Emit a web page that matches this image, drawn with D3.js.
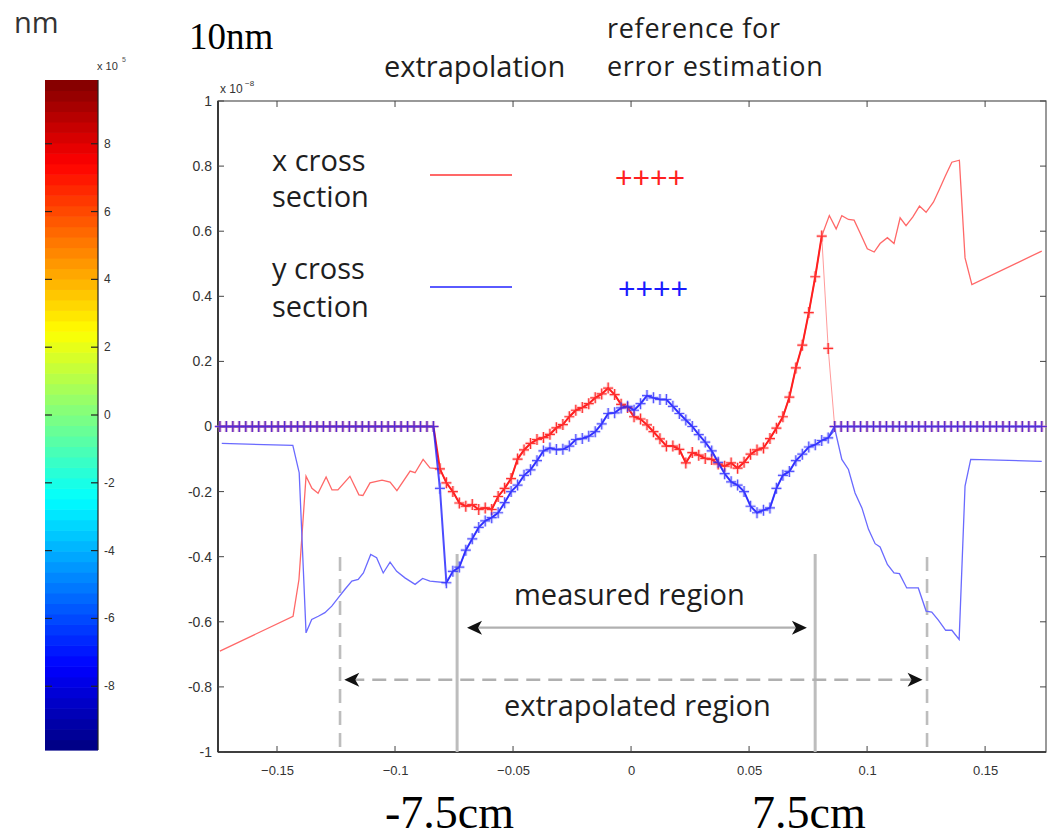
<!DOCTYPE html>
<html><head><meta charset="utf-8">
<script src="https://cdn.jsdelivr.net/npm/d3@7"></script>
<style>body{margin:0;background:#fff}svg{display:block}</style>
</head><body>
<svg id="c" width="1052" height="839"></svg>
<script>
// ---------------- DATA ----------------
const xTicks = [-0.15, -0.1, -0.05, 0, 0.05, 0.1, 0.15];
const xTickLabels = ["\u22120.15", "\u22120.1", "\u22120.05", "0", "0.05", "0.1", "0.15"];
const yTicks = [1, 0.8, 0.6, 0.4, 0.2, 0, -0.2, -0.4, -0.6, -0.8, -1];
const yTickLabels = ["1", "0.8", "0.6", "0.4", "0.2", "0", "-0.2", "-0.4", "-0.6", "-0.8", "-1"];
const cbTicks = [8, 6, 4, 2, 0, -2, -4, -6, -8];
const cbTickLabels = ["8", "6", "4", "2", "0", "-2", "-4", "-6", "-8"];
const cbRange = [-9.88, 9.88];

// reference grid (128 samples) for the "++++" series
const gridStart = -0.1742, gridEnd = 0.1740, gridCount = 128;
// x cross section reference (red +)
const xRefValues = [
 0,0,0,0,0,0,0,0,0,0, 0,0,0,0,0,0,0,0,0,0, 0,0,0,0,0,0,0,0,0,0, 0,0,0,0,
 -0.13,-0.173,-0.20,-0.235,-0.245,-0.24,-0.255,-0.25,-0.255,-0.215,
 -0.19,-0.16,-0.10,-0.072,-0.052,-0.04,-0.034,-0.024,-0.004,0.006,
 0.03,0.05,0.058,0.07,0.088,0.10,0.118,0.098,0.068,0.058,
 0.03,0.023,0.005,-0.016,-0.038,-0.06,-0.06,-0.07,-0.112,-0.08,
 -0.088,-0.098,-0.101,-0.115,-0.122,-0.112,-0.128,-0.11,-0.085,-0.072,
 -0.066,-0.037,-0.005,0.03,0.09,0.18,0.25,0.35,0.46,0.585,
 0.24,
 0,0,0,0,0,0,0,0,0,0, 0,0,0,0,0,0,0,0,0,0, 0,0,0,0,0,0,0,0,0,0, 0,0,0
];
// y cross section reference (blue +)
const yRefValues = [
 0,0,0,0,0,0,0,0,0,0, 0,0,0,0,0,0,0,0,0,0, 0,0,0,0,0,0,0,0,0,0, 0,0,0,0,
 -0.19,-0.48,-0.445,-0.432,-0.38,-0.345,-0.31,-0.29,-0.28,-0.265,
 -0.234,-0.2,-0.18,-0.15,-0.133,-0.105,-0.075,-0.066,-0.071,-0.07,
 -0.06,-0.04,-0.037,-0.03,-0.016,0.008,0.04,0.042,0.057,0.062,
 0.05,0.07,0.095,0.088,0.083,0.083,0.062,0.04,0.02,0.0,
 -0.025,-0.048,-0.075,-0.11,-0.145,-0.17,-0.18,-0.2,-0.245,-0.265,
 -0.257,-0.25,-0.19,-0.15,-0.138,-0.105,-0.085,-0.063,-0.056,-0.043,
 -0.035,
 0,0,0,0,0,0,0,0,0,0, 0,0,0,0,0,0,0,0,0,0, 0,0,0,0,0,0,0,0,0,0, 0,0,0
];

// x cross section (thin red line) outside the measured region
const xCrossLeftX = [-0.1742,-0.1432,-0.1407,-0.1377,-0.1352,-0.1326,-0.1292,-0.1267,-0.1242,-0.1191,-0.1153,-0.1136,-0.1106,-0.1055,-0.1021,-0.0992,-0.0936,-0.0915,-0.0881,-0.0852];
const xCrossLeftY = [-0.69,-0.583,-0.47,-0.153,-0.19,-0.205,-0.155,-0.195,-0.195,-0.153,-0.21,-0.212,-0.173,-0.165,-0.171,-0.197,-0.137,-0.142,-0.101,-0.127];
const xCrossRightX = [0.0840,0.0869,0.0893,0.0921,0.0945,0.0970,0.1001,0.1030,0.1055,0.1086,0.1114,0.1140,0.1165,0.1194,0.1222,0.1250,0.1281,0.1306,0.1331,0.1359,0.1391,0.1415,0.1444,0.1740];
const xCrossRightY = [0.648,0.607,0.648,0.636,0.634,0.595,0.546,0.536,0.562,0.58,0.562,0.641,0.617,0.644,0.677,0.658,0.689,0.728,0.769,0.812,0.818,0.518,0.436,0.539];
// y cross section (thin blue line) outside the measured region
const yCrossLeftX = [-0.1734,-0.1433,-0.1406,-0.1377,-0.1353,-0.1325,-0.1297,-0.1268,-0.1240,-0.1212,-0.1183,-0.1156,-0.1134,-0.1103,-0.1078,-0.1050,-0.1021,-0.0993,-0.0958,-0.0915,-0.0883,-0.0852];
const yCrossLeftY = [-0.052,-0.058,-0.142,-0.634,-0.593,-0.583,-0.572,-0.552,-0.526,-0.50,-0.475,-0.47,-0.45,-0.393,-0.403,-0.45,-0.417,-0.445,-0.465,-0.485,-0.467,-0.475];
const yCrossRightX = [0.0864,0.0893,0.0921,0.0949,0.0978,0.1006,0.1034,0.1055,0.1086,0.1114,0.1137,0.1168,0.1217,0.1250,0.1274,0.1302,0.1333,0.1359,0.1390,0.1415,0.1439,0.1740];
const yCrossRightY = [-0.01,-0.101,-0.132,-0.204,-0.25,-0.316,-0.36,-0.37,-0.424,-0.45,-0.452,-0.496,-0.496,-0.567,-0.57,-0.595,-0.626,-0.626,-0.654,-0.183,-0.101,-0.107];

// annotated region bounds (x in m) and arrow levels
const measuredBounds = [-0.0737, 0.0780];
const extrapolatedBounds = [-0.1233, 0.1254];
const measuredArrow = [-0.0695, 0.0745, -0.618];
const extrapolatedArrow = [-0.1215, 0.1235, -0.778];

// ---------------- DRAW ----------------
const svg = d3.select("#c");
const x = d3.scaleLinear().domain([-0.175, 0.1758]).range([218, 1046]);
const y = d3.scaleLinear().domain([-1, 1]).range([752, 101]);
const sans = "'Open Sans', 'Liberation Sans', sans-serif";
const gridX = i => gridStart + i * (gridEnd - gridStart) / (gridCount - 1);

// ---- colorbar ----
const cb = d3.scaleLinear().domain(cbRange).range([750, 80]);
function jet(t) {
  const c = v => Math.max(0, Math.min(1, v));
  const r = c(1.5 - Math.abs(4 * t - 3)), g = c(1.5 - Math.abs(4 * t - 2)), b = c(1.5 - Math.abs(4 * t - 1));
  return d3.rgb(r * 255, g * 255, b * 255);
}
const nb = 64;
const bands = d3.range(nb);
const bandVal = d3.scaleLinear().domain([0, nb]).range(cbRange);
svg.append("g").selectAll("rect").data(bands).join("rect")
  .attr("x", 45).attr("width", 53)
  .attr("y", d => cb(bandVal(d + 1)))
  .attr("height", d => cb(bandVal(d)) - cb(bandVal(d + 1)) + 0.6)
  .attr("fill", d => jet((d + 0.5) / nb));
svg.append("line").attr("x1", 98).attr("x2", 98).attr("y1", 80).attr("y2", 750).attr("stroke", "#222").attr("stroke-width", 1.2);
const cbT = svg.append("g");
cbT.selectAll("line.l").data(cbTicks).join("line").attr("class", "l")
  .attr("x1", 45).attr("x2", 52).attr("y1", d => cb(d)).attr("y2", d => cb(d)).attr("stroke", "#222").attr("stroke-width", 1.2);
cbT.selectAll("line.r").data(cbTicks).join("line").attr("class", "r")
  .attr("x1", 91).attr("x2", 98).attr("y1", d => cb(d)).attr("y2", d => cb(d)).attr("stroke", "#222").attr("stroke-width", 1.2);
cbT.selectAll("text").data(cbTicks).join("text")
  .attr("x", 104).attr("y", d => cb(d) + 4).attr("font-family", "'Liberation Sans', sans-serif").attr("font-size", 12).attr("fill", "#333")
  .text((d, i) => cbTickLabels[i]);
svg.append("text").attr("x", 97).attr("y", 70).attr("font-family", "'Liberation Sans', sans-serif").attr("font-size", 11).attr("fill", "#333").text("x 10");
svg.append("text").attr("x", 122).attr("y", 62).attr("font-family", "'Liberation Sans', sans-serif").attr("font-size", 7).attr("fill", "#555").text("5");
svg.append("text").attr("x", 14).attr("y", 33).attr("font-family", sans).attr("font-size", 29).attr("fill", "#333").text("nm");
svg.append("text").attr("x", 189).attr("y", 49).attr("font-family", "'Liberation Serif', serif").attr("font-size", 37).attr("fill", "#000").text("10nm");

// ---- plot frame & axes ----
const [px0, px1] = x.range(), [py0, py1] = y.range();
svg.append("rect").attr("x", px0).attr("y", py1).attr("width", px1 - px0).attr("height", py0 - py1)
  .attr("fill", "none").attr("stroke", "#555").attr("stroke-width", 1.2);
svg.append("line").attr("x1", px0).attr("x2", px0).attr("y1", py1).attr("y2", py0).attr("stroke", "#222").attr("stroke-width", 1.6);
svg.append("line").attr("x1", px0).attr("x2", px1).attr("y1", py0).attr("y2", py0).attr("stroke", "#222").attr("stroke-width", 1.6);
const tk = svg.append("g").attr("stroke", "#444").attr("stroke-width", 1);
xTicks.forEach(v => {
  tk.append("line").attr("x1", x(v)).attr("x2", x(v)).attr("y1", py0).attr("y2", py0 - 6);
  tk.append("line").attr("x1", x(v)).attr("x2", x(v)).attr("y1", py1).attr("y2", py1 + 6);
});
yTicks.forEach(v => {
  tk.append("line").attr("x1", px0).attr("x2", px0 + 6).attr("y1", y(v)).attr("y2", y(v));
  tk.append("line").attr("x1", px1).attr("x2", px1 - 6).attr("y1", y(v)).attr("y2", y(v));
});
const xAxis = svg.append("g").attr("transform", `translate(0,${py0})`)
  .call(d3.axisBottom(x).tickValues(xTicks).tickFormat((d, i) => xTickLabels[i]).tickSize(0).tickPadding(14));
xAxis.select(".domain").remove();
xAxis.selectAll("text").attr("font-family", "'Liberation Sans', sans-serif").attr("font-size", 13).attr("fill", "#333");
const yAxis = svg.append("g").attr("transform", `translate(${px0},0)`)
  .call(d3.axisLeft(y).tickValues(yTicks).tickFormat((d, i) => yTickLabels[i]).tickSize(0).tickPadding(6));
yAxis.select(".domain").remove();
yAxis.selectAll("text").attr("font-family", "'Liberation Sans', sans-serif").attr("font-size", 14).attr("fill", "#333");
svg.append("text").attr("x", 220).attr("y", 93).attr("font-family", "'Liberation Sans', sans-serif").attr("font-size", 12).attr("fill", "#333").text("x 10");
svg.append("text").attr("x", 245).attr("y", 86).attr("font-family", "'Liberation Sans', sans-serif").attr("font-size", 8).attr("fill", "#333").text("\u22128");

// ---- region annotation lines ----
const ann = svg.append("g");
measuredBounds.forEach(v => ann.append("line").attr("x1", x(v)).attr("x2", x(v)).attr("y1", 554).attr("y2", py0)
  .attr("stroke", "#bdbdbd").attr("stroke-width", 3));
extrapolatedBounds.forEach(v => ann.append("line").attr("x1", x(v)).attr("x2", x(v)).attr("y1", 557).attr("y2", py0)
  .attr("stroke", "#bdbdbd").attr("stroke-width", 2.6).attr("stroke-dasharray", "14,8"));
function arrow(spec, dashed) {
  const [a, b, lv] = spec, yy = y(lv);
  ann.append("line").attr("x1", x(a) + 6).attr("x2", x(b) - 6).attr("y1", yy).attr("y2", yy)
    .attr("stroke", "#b0b0b0").attr("stroke-width", 2.4).attr("stroke-dasharray", dashed ? "14,8" : null);
  const head = (tx, dir) => ann.append("path")
    .attr("d", `M${tx},${yy} L${tx - dir * 15},${yy - 7} L${tx - dir * 11},${yy} L${tx - dir * 15},${yy + 7} Z`)
    .attr("fill", "#111");
  head(x(a), -1); head(x(b), 1);
}
arrow(measuredArrow, false);
arrow(extrapolatedArrow, true);

// ---- series ----
const line = d3.line().x(d => x(d[0])).y(d => y(d[1]));
const xCross = [
  ...xCrossLeftX.map((v, i) => [v, xCrossLeftY[i]]),
  ...d3.range(34, 94).map(i => [gridX(i), xRefValues[i]]),
  ...xCrossRightX.map((v, i) => [v, xCrossRightY[i]])
];
const yCross = [
  ...yCrossLeftX.map((v, i) => [v, yCrossLeftY[i]]),
  ...d3.range(35, 95).map(i => [gridX(i), yRefValues[i]]),
  ...yCrossRightX.map((v, i) => [v, yCrossRightY[i]])
];
svg.append("path").datum(xCross).attr("d", line).attr("fill", "none").attr("stroke", "#ff6868").attr("stroke-width", 1.3);
svg.append("path").datum(yCross).attr("d", line).attr("fill", "none").attr("stroke", "#6a6aff").attr("stroke-width", 1.3);

const xRef = xRefValues.map((v, i) => [gridX(i), v]);
const yRef = yRefValues.map((v, i) => [gridX(i), v]);
const plus = d => { const cx = x(d[0]), cy = y(d[1]); return `M${cx - 5},${cy}h10M${cx},${cy - 5.5}v11`; };
function refSeries(data, lineColor, halo, markColor, op, thinFrom) {
  const g = svg.append("g").attr("opacity", op);
  g.append("path").attr("d", data.map(plus).join("")).attr("stroke", halo).attr("stroke-width", 3.2).attr("fill", "none");
  const main = thinFrom ? data.slice(0, thinFrom + 1) : data;
  g.append("path").datum(main).attr("d", line).attr("fill", "none").attr("stroke", lineColor).attr("stroke-width", 2);
  if (thinFrom) g.append("path").datum(data.slice(thinFrom)).attr("d", line).attr("fill", "none").attr("stroke", lineColor).attr("stroke-width", 1).attr("opacity", 0.45);
  g.append("path").attr("d", data.map(plus).join("")).attr("stroke", markColor).attr("stroke-width", 1.2).attr("fill", "none");
}
refSeries(xRef, "#ff2020", "rgba(255,120,120,0.35)", "#ff3030", 1, 93);
refSeries(yRef, "#2020ff", "rgba(120,120,255,0.35)", "#2a2aff", 0.8, 0);

// ---- legend & labels ----
const txt = (s, tx, ty, size, fam, col, ls) => svg.append("text").attr("x", tx).attr("y", ty)
  .attr("font-family", fam || sans).attr("font-size", size).attr("fill", col || "#1e1e1e")
  .attr("letter-spacing", ls || 0).text(s);
txt("x cross", 272, 171, 29); txt("section", 272, 207, 29);
txt("y cross", 272, 279, 29); txt("section", 272, 317, 29);
svg.append("line").attr("x1", 430).attr("x2", 512).attr("y1", 175).attr("y2", 175).attr("stroke", "#ff6868").attr("stroke-width", 2);
svg.append("line").attr("x1", 430).attr("x2", 512).attr("y1", 287).attr("y2", 287).attr("stroke", "#5a5aff").attr("stroke-width", 2);
txt("++++", 615, 188, 30, "'Liberation Sans', sans-serif", "#ff2020");
txt("++++", 618, 299, 30, "'Liberation Sans', sans-serif", "#1a1aff");
txt("extrapolation", 384, 77, 29);
txt("reference for", 607, 38, 27, null, null, 0.7);
txt("error estimation", 607, 76, 27, null, null, 0.7);
txt("measured region", 514, 605, 29);
txt("extrapolated region", 504, 716, 29);
txt("-7.5cm", 385, 828, 46, "'Liberation Serif', serif", "#000");
txt("7.5cm", 752, 828, 46, "'Liberation Serif', serif", "#000");
</script>
</body></html>
